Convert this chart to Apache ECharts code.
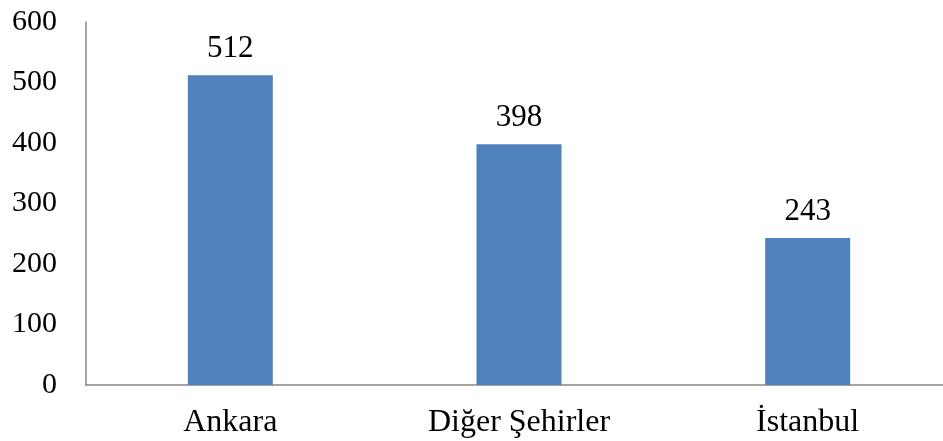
<!DOCTYPE html>
<html>
<head>
<meta charset="utf-8">
<script src="https://cdn.jsdelivr.net/npm/echarts@6/dist/echarts.min.js"></script>
<style>
  html, body { margin: 0; padding: 0; background: #ffffff; }
  #chart { width: 943px; height: 441px; }
</style>
</head>
<body>
<div id="chart"></div>
<script>
// Cities and their counts
const categories = ['Ankara', 'Diğer Şehirler', 'İstanbul'];
const counts = [512, 398, 243];
const yTicks = { min: 0, max: 600, interval: 100 };

const font = '"Liberation Serif", "Times New Roman", serif';

const chart = echarts.init(document.getElementById('chart'));
chart.setOption({
  animation: false,
  backgroundColor: '#ffffff',
  // plot area runs slightly past the right edge of the canvas
  grid: {
    left: 86, width: 866, top: 22, bottom: 56,
    containLabel: false,
    outerBoundsMode: 'none'
  },
  xAxis: {
    type: 'category',
    data: categories,
    axisLine: { show: true, lineStyle: { color: '#868686', width: 1.5 } },
    axisTick: { show: false },
    axisLabel: { color: '#000000', fontFamily: font, fontSize: 32, margin: 22 },
    splitLine: { show: false }
  },
  yAxis: {
    type: 'value',
    min: yTicks.min,
    max: yTicks.max,
    interval: yTicks.interval,
    axisLine: { show: true, lineStyle: { color: '#868686', width: 1.5 } },
    axisTick: { show: false },
    axisLabel: {
      color: '#000000', fontFamily: font, fontSize: 30, margin: 29,
      padding: [6, 0, 0, 0]
    },
    splitLine: { show: false }
  },
  series: [{
    type: 'bar',
    data: counts,
    barWidth: 85,
    itemStyle: { color: '#4F81BD' },
    label: {
      show: true,
      position: 'top',
      distance: 11,
      color: '#000000',
      fontFamily: font,
      fontSize: 31
    }
  }]
});
</script>
</body>
</html>
